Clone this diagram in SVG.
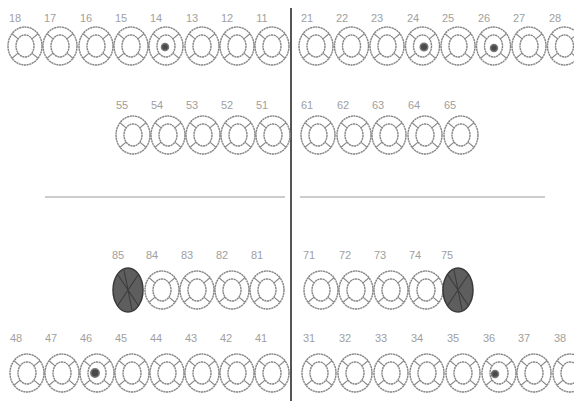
<svg xmlns="http://www.w3.org/2000/svg" xmlns:xlink="http://www.w3.org/1999/xlink" width="574" height="401" viewBox="0 0 574 401">
<style>
.o{fill:none;stroke:#858585;stroke-width:1.4;stroke-dasharray:2.2 0.5}
.s{fill:none;stroke:#8a8a8a;stroke-width:1.2}
.l{font-family:"Liberation Sans Narrow","Liberation Sans",Arial,sans-serif;font-size:11px;fill:#a0a0a0;text-anchor:middle}
.dot{fill:#4a4a4a;stroke:#777;stroke-width:1.5}
.dk{fill:#5e5e5e;stroke:#3a3a3a;stroke-width:1.5}
.x{stroke:#3c3c3c;stroke-width:1.1;fill:none}
.ln{stroke:#555;stroke-width:2}
.hl{stroke:#9a9a9a;stroke-width:1}
</style>
<defs>
<g id="t">
<ellipse class="o" cx="0" cy="0" rx="17" ry="19"/>
<ellipse class="o" cx="0" cy="0" rx="9" ry="11"/>
<path class="s" d="M-6.9,-7.1L-13,-12.2M6.9,-7.1L13,-12.2M-6.9,7.1L-13,12.2M6.9,7.1L13,12.2"/>
</g>
<g id="dk">
<ellipse class="dk" cx="0" cy="0" rx="15" ry="22"/>
<path class="x" d="M-10,-15L10,15M10,-15L-10,15M-4,-20L4,20"/>
</g>
</defs>
<g id="lines">
<line class="ln" x1="291" y1="8" x2="291" y2="401"/>
<line class="hl" x1="45" y1="197" x2="285" y2="197"/>
<line class="hl" x1="300" y1="197" x2="545" y2="197"/>
</g>
<g id="row1" transform="translate(0,46)">
<g id="t18"><use xlink:href="#t" x="25"/><text class="l" x="15" y="-24">18</text></g>
<g id="t17"><use xlink:href="#t" x="60"/><text class="l" x="50" y="-24">17</text></g>
<g id="t16"><use xlink:href="#t" x="96"/><text class="l" x="86" y="-24">16</text></g>
<g id="t15"><use xlink:href="#t" x="131"/><text class="l" x="121" y="-24">15</text></g>
<g id="t14"><use xlink:href="#t" x="166"/><circle class="dot" cx="165" cy="1" r="3.5"/><text class="l" x="156" y="-24">14</text></g>
<g id="t13"><use xlink:href="#t" x="202"/><text class="l" x="192" y="-24">13</text></g>
<g id="t12"><use xlink:href="#t" x="237"/><text class="l" x="227" y="-24">12</text></g>
<g id="t11"><use xlink:href="#t" x="272"/><text class="l" x="262" y="-24">11</text></g>
<g id="t21"><use xlink:href="#t" x="316"/><text class="l" x="307" y="-24">21</text></g>
<g id="t22"><use xlink:href="#t" x="351.5"/><text class="l" x="342" y="-24">22</text></g>
<g id="t23"><use xlink:href="#t" x="387"/><text class="l" x="377" y="-24">23</text></g>
<g id="t24"><use xlink:href="#t" x="422.5"/><circle class="dot" cx="424" cy="1" r="3.8"/><text class="l" x="413" y="-24">24</text></g>
<g id="t25"><use xlink:href="#t" x="458"/><text class="l" x="448" y="-24">25</text></g>
<g id="t26"><use xlink:href="#t" x="493.5"/><circle class="dot" cx="494" cy="2" r="3.5"/><text class="l" x="484" y="-24">26</text></g>
<g id="t27"><use xlink:href="#t" x="529"/><text class="l" x="519" y="-24">27</text></g>
<g id="t28"><use xlink:href="#t" x="564.5"/><text class="l" x="555" y="-24">28</text></g>
</g>
<g id="row2" transform="translate(0,135)">
<g id="t55"><use xlink:href="#t" x="133"/><text class="l" x="122" y="-26">55</text></g>
<g id="t54"><use xlink:href="#t" x="168"/><text class="l" x="157" y="-26">54</text></g>
<g id="t53"><use xlink:href="#t" x="203"/><text class="l" x="192" y="-26">53</text></g>
<g id="t52"><use xlink:href="#t" x="238"/><text class="l" x="227" y="-26">52</text></g>
<g id="t51"><use xlink:href="#t" x="273"/><text class="l" x="262" y="-26">51</text></g>
<g id="t61"><use xlink:href="#t" x="318"/><text class="l" x="307" y="-26">61</text></g>
<g id="t62"><use xlink:href="#t" x="354"/><text class="l" x="343" y="-26">62</text></g>
<g id="t63"><use xlink:href="#t" x="389"/><text class="l" x="378" y="-26">63</text></g>
<g id="t64"><use xlink:href="#t" x="425"/><text class="l" x="414" y="-26">64</text></g>
<g id="t65"><use xlink:href="#t" x="461"/><text class="l" x="450" y="-26">65</text></g>
</g>
<g id="row3" transform="translate(0,290)">
<g id="t85"><use xlink:href="#dk" x="128"/><text class="l" x="118" y="-31">85</text></g>
<g id="t84"><use xlink:href="#t" x="162"/><text class="l" x="152" y="-31">84</text></g>
<g id="t83"><use xlink:href="#t" x="197"/><text class="l" x="187" y="-31">83</text></g>
<g id="t82"><use xlink:href="#t" x="232"/><text class="l" x="222" y="-31">82</text></g>
<g id="t81"><use xlink:href="#t" x="267"/><text class="l" x="257" y="-31">81</text></g>
<g id="t71"><use xlink:href="#t" x="321"/><text class="l" x="309" y="-31">71</text></g>
<g id="t72"><use xlink:href="#t" x="356"/><text class="l" x="345" y="-31">72</text></g>
<g id="t73"><use xlink:href="#t" x="391"/><text class="l" x="380" y="-31">73</text></g>
<g id="t74"><use xlink:href="#t" x="426"/><text class="l" x="415" y="-31">74</text></g>
<g id="t75"><use xlink:href="#dk" x="458"/><text class="l" x="447" y="-31">75</text></g>
</g>
<g id="row4" transform="translate(0,373)">
<g id="t48"><use xlink:href="#t" x="27"/><text class="l" x="16" y="-31">48</text></g>
<g id="t47"><use xlink:href="#t" x="62"/><text class="l" x="51" y="-31">47</text></g>
<g id="t46"><use xlink:href="#t" x="97"/><circle class="dot" cx="95" cy="0" r="4.2"/><text class="l" x="86" y="-31">46</text></g>
<g id="t45"><use xlink:href="#t" x="132"/><text class="l" x="121" y="-31">45</text></g>
<g id="t44"><use xlink:href="#t" x="167"/><text class="l" x="156" y="-31">44</text></g>
<g id="t43"><use xlink:href="#t" x="202"/><text class="l" x="191" y="-31">43</text></g>
<g id="t42"><use xlink:href="#t" x="237"/><text class="l" x="226" y="-31">42</text></g>
<g id="t41"><use xlink:href="#t" x="272"/><text class="l" x="261" y="-31">41</text></g>
<g id="t31"><use xlink:href="#t" x="319"/><text class="l" x="309" y="-31">31</text></g>
<g id="t32"><use xlink:href="#t" x="355"/><text class="l" x="345" y="-31">32</text></g>
<g id="t33"><use xlink:href="#t" x="391"/><text class="l" x="381" y="-31">33</text></g>
<g id="t34"><use xlink:href="#t" x="427"/><text class="l" x="417" y="-31">34</text></g>
<g id="t35"><use xlink:href="#t" x="463"/><text class="l" x="453" y="-31">35</text></g>
<g id="t36"><use xlink:href="#t" x="499"/><circle class="dot" cx="495" cy="1" r="3.5"/><text class="l" x="489" y="-31">36</text></g>
<g id="t37"><use xlink:href="#t" x="534"/><text class="l" x="524" y="-31">37</text></g>
<g id="t38"><use xlink:href="#t" x="570"/><text class="l" x="560" y="-31">38</text></g>
</g>
</svg>
